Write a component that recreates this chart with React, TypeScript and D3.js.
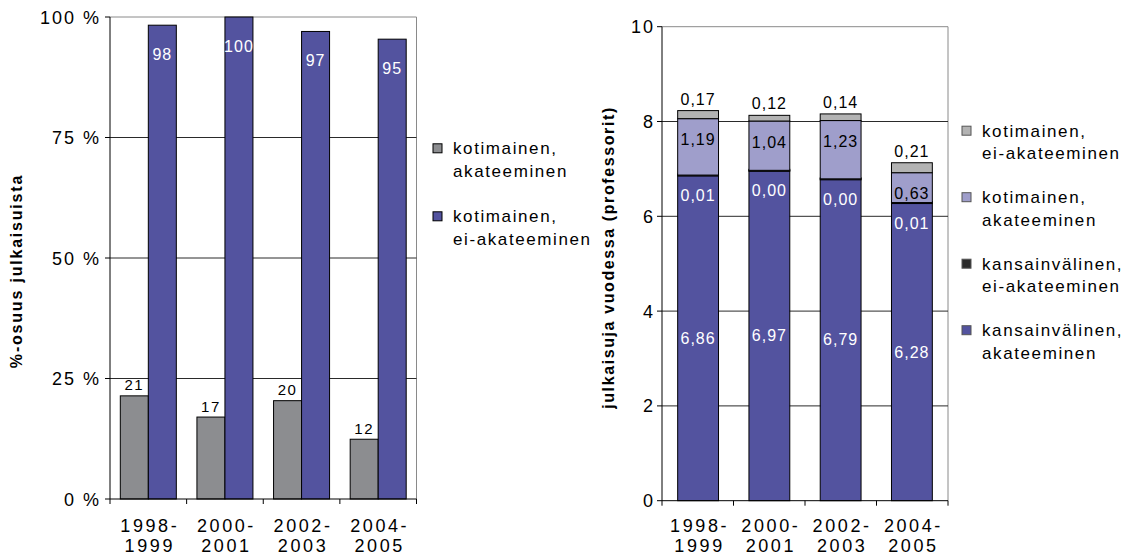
import React from 'react';
import * as d3 from 'd3';

// categories and values
const periods = ['1998-1999', '2000-2001', '2002-2003', '2004-2005'];

// left chart: share of publications (%)
const shareSeries = ['kotimainen, akateeminen', 'kotimainen, ei-akateeminen'];
const shareAkat = [21.4, 17, 20.4, 12.4];
const shareEiAkat = [98.3, 100, 97, 95.4];
const shareAkatLabels = ['21', '17', '20', '12'];
const shareEiAkatLabels = ['98', '100', '97', '95'];
const shareTicks = [0, 25, 50, 75, 100];

// right chart: publications per year (professors), stacked bottom -> top
const stackKeys = ['kvAkat', 'kvEiAkat', 'kotiAkat', 'kotiEiAkat'];
const stackNames = [
  'kansainvälinen, akateeminen',
  'kansainvälinen, ei-akateeminen',
  'kotimainen, akateeminen',
  'kotimainen, ei-akateeminen',
];
const kvAkat = [6.86, 6.97, 6.79, 6.28];
const kvEiAkat = [0.01, 0.0, 0.0, 0.01];
const kotiAkat = [1.19, 1.04, 1.23, 0.63];
const kotiEiAkat = [0.17, 0.12, 0.14, 0.21];
const countTicks = [0, 2, 4, 6, 8, 10];

const FONT = '"Liberation Sans", Arial, Helvetica, sans-serif';
const BLUE = '#53539f';
const GREY = '#8c8d90';
const LILAC = '#9f9ecb';
const LIGHT = '#b3b3b3';
const DARK = '#2b2b2b';
const stackColors = [BLUE, DARK, LILAC, LIGHT];
const INK = '#000';

const fmt = (v: number) => v.toFixed(2).replace('.', ',');

const XLabel = ({ x, label }: { x: number; label: string }) => {
  const [a, b] = label.split('-');
  return (
    <g fontSize={18} letterSpacing={2.6} textAnchor="middle" fill={INK}>
      <text x={x + 1.5} y={531.5}>{a + '-'}</text>
      <text x={x + 1.5} y={552}>{b}</text>
    </g>
  );
};

const LegendEntry = ({ x, y, color, name, border }: { x: number; y: number; color: string; name: string; border: string }) => {
  const [l1, l2] = name.split(', ');
  return (
    <g>
      <rect x={x} y={y - 10.5} width={9} height={9} fill={color} stroke={border} strokeWidth={1} />
      <g fontSize={17} letterSpacing={1.6} fill={INK}>
        <text x={x + 20} y={y}>{l1 + ','}</text>
        <text x={x + 20} y={y + 22.5}>{l2}</text>
      </g>
    </g>
  );
};

const LeftChart = () => {
  const x0 = 110, x1 = 416.5, yT = 17, yB = 499;
  const x = d3.scaleBand<string>().domain(periods).range([x0, x1]).paddingInner(0).paddingOuter(0);
  const sub = d3.scaleBand<string>().domain(shareSeries).range([0, x.bandwidth()]).paddingInner(0).paddingOuter(0.368);
  const y = d3.scaleLinear().domain([0, 100]).range([yB, yT]);
  const bw = sub.bandwidth();
  return (
    <g>
      {/* plot border (top/right) */}
      <path d={`M${x0},${yT}H${x1}V${yB}`} fill="none" stroke="#8a8a8a" />
      {shareTicks.filter(t => t > 0 && t < 100).map(t => (
        <line key={t} x1={x0} x2={x1} y1={y(t)} y2={y(t)} stroke="#2a2a2a" />
      ))}
      {periods.map((p, i) => {
        const gx = x(p)!;
        const xa = gx + sub(shareSeries[0])!;
        const xb = gx + sub(shareSeries[1])!;
        return (
          <g key={p}>
            <rect x={xa} y={y(shareAkat[i])} width={bw} height={yB - y(shareAkat[i])} fill={GREY} stroke="#000" />
            <rect x={xb} y={y(shareEiAkat[i])} width={bw} height={yB - y(shareEiAkat[i])} fill={BLUE} stroke="#000" />
            <text x={xa + bw / 2} y={y(shareAkat[i]) - 5.5} textAnchor="middle" fontSize={15} letterSpacing={1.5} fill={INK}>
              {shareAkatLabels[i]}
            </text>
            <text x={xb + bw / 2} y={y(shareEiAkat[i]) + 34.5} textAnchor="middle" fontSize={16} letterSpacing={1} fill="#fff">
              {shareEiAkatLabels[i]}
            </text>
          </g>
        );
      })}
      {/* axes */}
      <line x1={x0} x2={x0} y1={yT} y2={yB} stroke="#000" />
      <line x1={x0} x2={x1} y1={yB} y2={yB} stroke="#000" />
      {shareTicks.map(t => (
        <g key={t}>
          <line x1={x0 - 5} x2={x0} y1={y(t)} y2={y(t)} stroke="#000" />
          <text x={101} y={y(t) + 6.5} textAnchor="end" fontSize={18} letterSpacing={2} fill={INK}>{`${t} %`}</text>
        </g>
      ))}
      {[...periods.map(p => x(p)!), x1].map((v, i) => (
        <line key={i} x1={v} x2={v} y1={yB} y2={yB + 5} stroke="#000" />
      ))}
      {periods.map(p => <XLabel key={p} x={x(p)! + x.bandwidth() / 2} label={p} />)}
      <text transform="translate(21.5,271) rotate(-90)" textAnchor="middle" fontSize={16} fontWeight="bold" letterSpacing={1.8} fill={INK}>
        %-osuus julkaisuista
      </text>
      <LegendEntry x={433} y={154.3} color={GREY} name={shareSeries[0]} border="#000" />
      <LegendEntry x={433} y={222.3} color={BLUE} name={shareSeries[1]} border="#000" />
    </g>
  );
};

const RightChart = () => {
  const x0 = 662, x1 = 948, yT = 26.7, yB = 500.7;
  const xTicks = d3.scaleBand<string>().domain(periods).range([x0, x1]);
  const x = d3.scaleBand<string>().domain(periods).range([x0, x1]).paddingInner(0.427).paddingOuter(0.22);
  const y = d3.scaleLinear().domain([0, 10]).range([yB, yT]);
  const rows = periods.map((p, i) => ({
    period: p, kvAkat: kvAkat[i], kvEiAkat: kvEiAkat[i], kotiAkat: kotiAkat[i], kotiEiAkat: kotiEiAkat[i],
  }));
  const series = d3.stack<any>().keys(stackKeys)(rows);
  const bw = x.bandwidth();
  return (
    <g>
      <path d={`M${x0},${yT}H${x1}V${yB}`} fill="none" stroke="#8a8a8a" />
      {countTicks.filter(t => t > 0 && t < 10).map(t => (
        <line key={t} x1={x0} x2={x1} y1={y(t)} y2={y(t)} stroke="#2a2a2a" />
      ))}
      {series.map((s, si) => (
        <g key={s.key}>
          {s.map((d, i) => {
            const top = y(d[1]);
            const bot = y(d[0]);
            const h = Math.max(bot - top, si === 1 ? 2 : 0);
            return (
              <rect key={i} x={x(periods[i])!} y={si === 1 ? top - 1 : top} width={bw} height={h}
                fill={stackColors[si]} stroke="#000" />
            );
          })}
        </g>
      ))}
      {series.map((s, si) => s.map((d, i) => {
        const v = d[1] - d[0];
        const cx = x(periods[i])! + bw / 2;
        const top = y(d[1]);
        const bot = y(d[0]);
        let ly = (top + bot) / 2 + 5.7;
        let color = '#fff';
        if (si === 1) ly = bot + 25.7;
        if (si === 2) { ly = top + 26.7; color = INK; }
        if (si === 3) { ly = top - 6; color = INK; }
        return (
          <text key={`${si}-${i}`} x={cx} y={ly} textAnchor="middle" fontSize={16} letterSpacing={1} fill={color}>
            {fmt(v)}
          </text>
        );
      }))}
      <line x1={x0} x2={x0} y1={yT} y2={yB} stroke="#000" />
      <line x1={x0} x2={x1} y1={yB} y2={yB} stroke="#000" />
      {countTicks.map(t => (
        <g key={t}>
          <line x1={x0 - 5} x2={x0} y1={y(t)} y2={y(t)} stroke="#000" />
          <text x={655} y={y(t) + 6.5} textAnchor="end" fontSize={18} letterSpacing={2} fill={INK}>{t}</text>
        </g>
      ))}
      {[...periods.map(p => xTicks(p)!), x1].map((v, i) => (
        <line key={i} x1={v} x2={v} y1={yB} y2={yB + 5} stroke="#000" />
      ))}
      {periods.map(p => <XLabel key={p} x={x(p)! + bw / 2} label={p} />)}
      <text transform="translate(613.5,257.5) rotate(-90)" textAnchor="middle" fontSize={16} fontWeight="bold" letterSpacing={1.6} fill={INK}>
        julkaisuja vuodessa (professorit)
      </text>
      {[3, 2, 1, 0].map((si, k) => (
        <LegendEntry key={si} x={962} y={136.7 + k * 66.5} color={stackColors[si]} name={stackNames[si]} border="#555" />
      ))}
    </g>
  );
};

export default function App() {
  return (
    <svg width={1127} height={558} style={{ display: 'block', position: 'absolute', left: 0, top: 0 }} fontFamily={FONT}>
      <rect width={1127} height={558} fill="#fff" />
      <LeftChart />
      <RightChart />
    </svg>
  );
}
